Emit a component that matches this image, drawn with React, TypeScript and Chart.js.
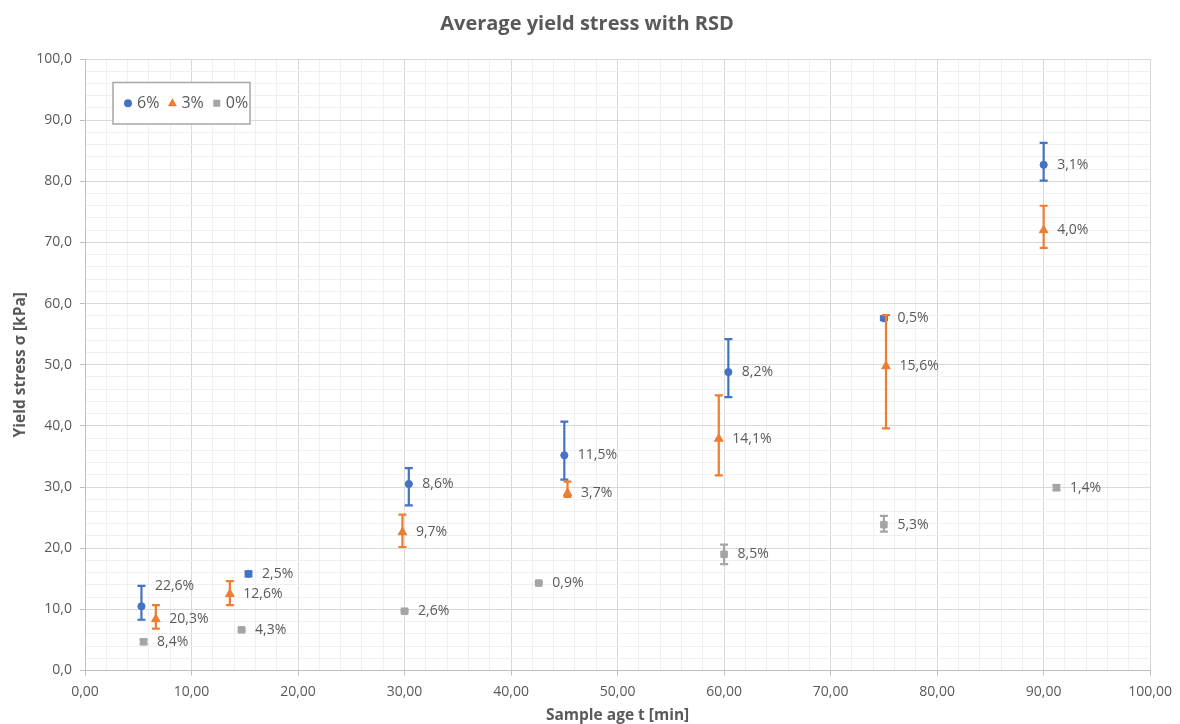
import { useEffect, useRef } from 'react';
import { Chart, registerables } from 'chart.js';

Chart.register(...registerables);

// Sample age t [min] and yield stress [kPa] per mixture, with lower/upper error-bar ends and RSD labels
const age6 = [5.3, 15.35, 30.4, 45.0, 60.4, 75.0, 90.0];
const stress6 = [10.5, 15.8, 30.5, 35.2, 48.8, 57.6, 82.7];
const low6 = [8.3, 15.4, 27.0, 31.2, 44.7, 57.3, 80.1];
const high6 = [13.85, 16.2, 33.1, 40.7, 54.2, 57.9, 86.3];
const rsd6 = ['22,6%', '2,5%', '8,6%', '11,5%', '8,2%', '0,5%', '3,1%'];

const age3 = [6.65, 13.6, 29.8, 45.3, 59.5, 75.2, 90.0];
const stress3 = [8.4, 12.5, 22.6, 29.0, 37.9, 49.75, 72.0];
const low3 = [6.85, 10.7, 20.2, 28.4, 31.9, 39.6, 69.1];
const high3 = [10.7, 14.6, 25.5, 30.9, 45.0, 58.1, 76.0];
const rsd3 = ['20,3%', '12,6%', '9,7%', '3,7%', '14,1%', '15,6%', '4,0%'];

const age0 = [5.5, 14.7, 30.0, 42.6, 60.0, 75.0, 91.2];
const stress0 = [4.7, 6.65, 9.7, 14.3, 19.0, 23.85, 29.9];
const low0 = [4.3, 6.4, 9.5, 14.2, 17.4, 22.7, 29.5];
const high0 = [5.1, 6.9, 9.9, 14.4, 20.6, 25.3, 30.3];
const rsd0 = ['8,4%', '4,3%', '2,6%', '0,9%', '8,5%', '5,3%', '1,4%'];

const seriesNames = ['6%', '3%', '0%'];
const chartTitle = 'Average yield stress with RSD';

const TEXT = '#595959';
const FONT = '"Open Sans", "DejaVu Sans", sans-serif';

type Series = {
  name: string;
  color: string;
  style: 'circle' | 'triangle' | 'rect';
  radius: number;
  x: number[];
  y: number[];
  lo: number[];
  hi: number[];
  rsd: string[];
  labelAtTop: boolean[];
  order: number;
};

const series: Series[] = [
  { name: seriesNames[0], color: '#4472C4', style: 'circle', radius: 3.6, x: age6, y: stress6, lo: low6, hi: high6, rsd: rsd6,
    labelAtTop: [true, false, false, false, false, false, false], order: 3 },
  { name: seriesNames[1], color: '#ED7D31', style: 'triangle', radius: 5, x: age3, y: stress3, lo: low3, hi: high3, rsd: rsd3,
    labelAtTop: [false, false, false, false, false, false, false], order: 2 },
  { name: seriesNames[2], color: '#A5A5A5', style: 'rect', radius: 4.6, x: age0, y: stress0, lo: low0, hi: high0, rsd: rsd0,
    labelAtTop: [false, false, false, false, false, false, false], order: 1 },
];

const isMajor = (v: number | undefined) => v !== undefined && Math.abs(v / 10 - Math.round(v / 10)) < 1e-6;

// Chart heading, centred over the whole figure
const heading = {
  id: 'heading',
  afterDraw(chart: any) {
    const ctx = chart.ctx;
    ctx.save();
    ctx.font = `bold 20px ${FONT}`;
    ctx.fillStyle = TEXT;
    ctx.textAlign = 'center';
    ctx.textBaseline = 'middle';
    ctx.fillText(chartTitle, 587, 24);
    ctx.restore();
  },
};

// Vertical error bars with caps, drawn just before each dataset's markers
const errorBars = {
  id: 'errorBars',
  beforeDatasetDraw(chart: any, args: any) {
    const s = series[args.index];
    if (!s) return;
    const xs = chart.scales.x;
    const ys = chart.scales.y;
    const ctx = chart.ctx;
    ctx.save();
    ctx.strokeStyle = s.color;
    ctx.lineWidth = 2.2;
    s.x.forEach((xv, i) => {
      const px = xs.getPixelForValue(xv);
      const top = ys.getPixelForValue(s.hi[i]);
      const bot = ys.getPixelForValue(s.lo[i]);
      ctx.beginPath();
      ctx.moveTo(px, top);
      ctx.lineTo(px, bot);
      ctx.moveTo(px - 4, top);
      ctx.lineTo(px + 4, top);
      ctx.moveTo(px - 4, bot);
      ctx.lineTo(px + 4, bot);
      ctx.stroke();
    });
    ctx.restore();
  },
};

// RSD text to the right of every point
const rsdLabels = {
  id: 'rsdLabels',
  afterDatasetsDraw(chart: any) {
    const xs = chart.scales.x;
    const ys = chart.scales.y;
    const ctx = chart.ctx;
    ctx.save();
    ctx.font = `14px ${FONT}`;
    ctx.fillStyle = TEXT;
    ctx.textAlign = 'left';
    ctx.textBaseline = 'middle';
    series.forEach((s) => {
      s.x.forEach((xv, i) => {
        const px = xs.getPixelForValue(xv);
        const py = ys.getPixelForValue(s.labelAtTop[i] ? s.hi[i] : s.y[i]);
        ctx.fillText(s.rsd[i], px + 13.5, py);
      });
    });
    ctx.restore();
  },
};

function drawMarker(ctx: CanvasRenderingContext2D, s: Series, x: number, y: number) {
  ctx.fillStyle = s.color;
  ctx.beginPath();
  if (s.style === 'circle') {
    ctx.arc(x, y, 4, 0, Math.PI * 2);
  } else if (s.style === 'triangle') {
    ctx.moveTo(x, y - 5);
    ctx.lineTo(x + 4.5, y + 3);
    ctx.lineTo(x - 4.5, y + 3);
    ctx.closePath();
  } else {
    ctx.rect(x - 3.5, y - 3.5, 7, 7);
  }
  ctx.fill();
}

// Boxed legend inside the plot area, top-left
const boxLegend = {
  id: 'boxLegend',
  afterDraw(chart: any) {
    const ctx = chart.ctx;
    const area = chart.chartArea;
    const left = area.left + 28;
    const top = area.top + 23.5;
    const w = 137;
    const h = 41.5;
    ctx.save();
    ctx.fillStyle = '#FFFFFF';
    ctx.fillRect(left, top, w, h);
    ctx.strokeStyle = '#A6A6A6';
    ctx.lineWidth = 1.5;
    ctx.strokeRect(left, top, w, h);
    ctx.font = `16px ${FONT}`;
    ctx.textBaseline = 'middle';
    ctx.textAlign = 'left';
    const cy = top + h / 2;
    let x = left + 15;
    series.forEach((s) => {
      drawMarker(ctx, s, x, cy);
      ctx.fillStyle = TEXT;
      ctx.fillText(s.name, x + 9, cy + 0.5);
      x = x + 9 + ctx.measureText(s.name).width + 13;
    });
    ctx.restore();
  },
};

export default function App() {
  const canvasRef = useRef<HTMLCanvasElement | null>(null);

  useEffect(() => {
    if (!canvasRef.current) return;
    Chart.defaults.color = TEXT;
    Chart.defaults.font.family = FONT;

    const gridColor = (c: any) => (isMajor(c.tick?.value) ? '#D9D9D9' : '#F0F0F0');
    const tickColor = (c: any) => (isMajor(c.tick?.value) ? '#BFBFBF' : 'rgba(0,0,0,0)');

    const chart = new Chart(canvasRef.current, {
      type: 'scatter',
      data: {
        datasets: series.map((s) => ({
          label: s.name,
          data: s.x.map((xv, i) => ({ x: xv, y: s.y[i] })),
          backgroundColor: s.color,
          borderColor: s.color,
          borderWidth: 1,
          pointStyle: s.style,
          pointRadius: s.radius,
          pointHoverRadius: s.radius,
          order: s.order,
        })),
      },
      options: {
        animation: false,
        responsive: false,
        devicePixelRatio: 1,
        layout: { padding: { left: 0, right: 29, top: 59, bottom: 0 } },
        plugins: {
          legend: { display: false },
          tooltip: { enabled: false },
          title: { display: false },
        },
        scales: {
          x: {
            type: 'linear',
            min: 0,
            max: 100,
            afterFit: (scale: any) => {
              scale.height = 53.5;
            },
            ticks: {
              stepSize: 2,
              maxTicksLimit: 1000,
              autoSkip: false,
              maxRotation: 0,
              minRotation: 0,
              padding: 8,
              color: TEXT,
              font: { size: 14, family: FONT },
              callback: (v: any) => (isMajor(Number(v)) ? Number(v).toFixed(2).replace('.', ',') : ''),
            },
            grid: { color: gridColor, tickColor, tickLength: 5, lineWidth: 1 },
            border: { color: '#BFBFBF', width: 1 },
            title: {
              display: true,
              text: 'Sample age t [min]',
              color: TEXT,
              font: { size: 15.5, weight: 'bold', family: FONT },
              padding: { top: 0, bottom: -1 },
            },
          },
          y: {
            type: 'linear',
            min: 0,
            max: 100,
            afterFit: (scale: any) => {
              scale.width = 85;
            },
            ticks: {
              stepSize: 2,
              maxTicksLimit: 1000,
              autoSkip: false,
              padding: 8,
              color: TEXT,
              font: { size: 14, family: FONT },
              callback: (v: any) => (isMajor(Number(v)) ? Number(v).toFixed(1).replace('.', ',') : ''),
            },
            grid: { color: gridColor, tickColor, tickLength: 5, lineWidth: 1 },
            border: { color: '#BFBFBF', width: 1 },
            title: {
              display: true,
              text: 'Yield stress σ [kPa]',
              color: TEXT,
              font: { size: 15.5, weight: 'bold', family: FONT },
              padding: { top: 11, bottom: 0 },
            },
          },
        },
      },
      plugins: [errorBars, rsdLabels, boxLegend, heading],
    } as any);

    return () => chart.destroy();
  }, []);

  return (
    <div style={{ position: 'absolute', left: 0, top: 0, width: 1180, height: 724, background: '#FFFFFF' }}>
      <canvas ref={canvasRef} width={1180} height={724} style={{ display: 'block' }} />
    </div>
  );
}
